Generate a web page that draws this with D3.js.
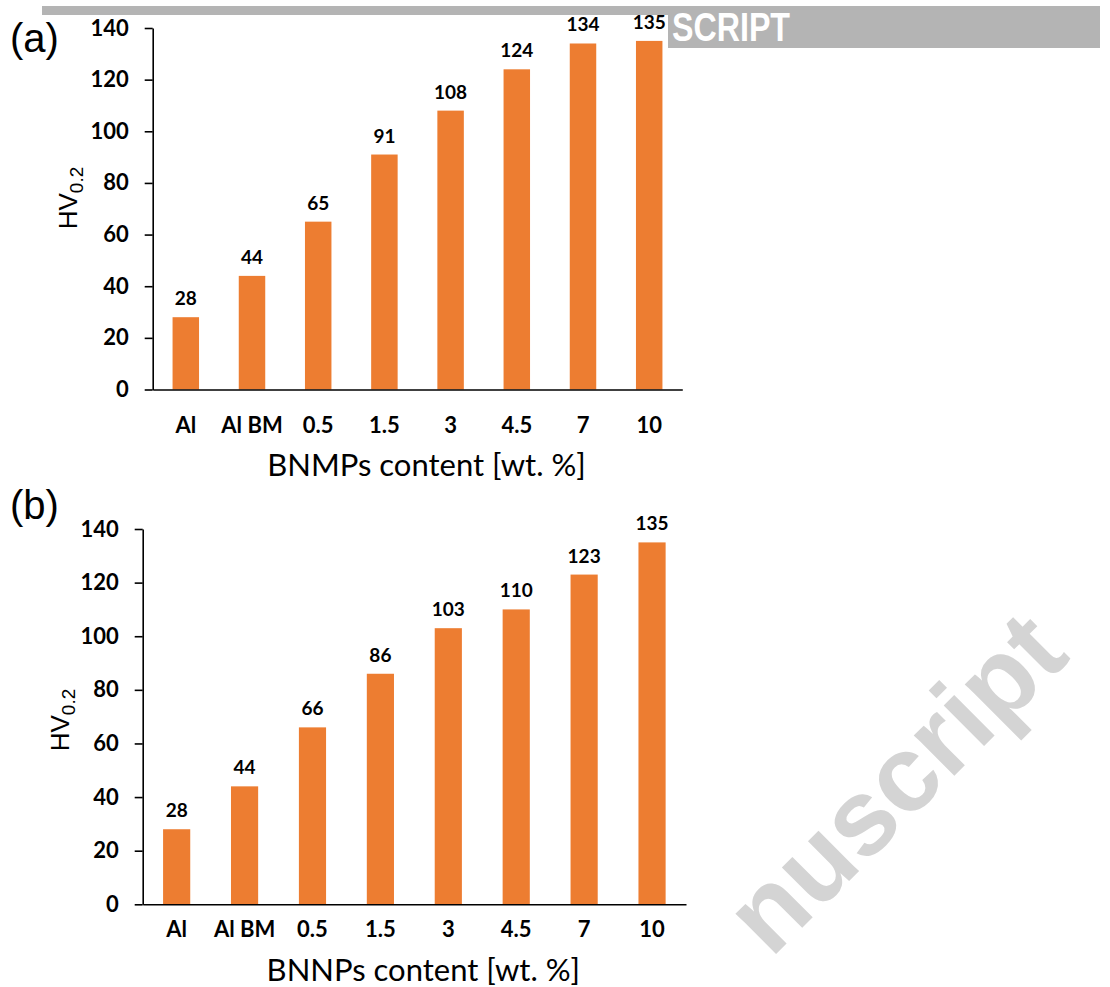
<!DOCTYPE html>
<html>
<head>
<meta charset="utf-8">
<script src="https://cdn.jsdelivr.net/npm/d3@7"></script>
<style>
  html, body { margin: 0; padding: 0; background: #fff; }
  svg { display: block; }
</style>
</head>
<body>
<svg id="chart" width="1110" height="987"></svg>
<script>
// ---- data ----
const categories = ["Al", "Al BM", "0.5", "1.5", "3", "4.5", "7", "10"];
const valuesA = [28, 44, 65, 91, 108, 124, 134, 135];
const valuesB = [28, 44, 66, 86, 103, 110, 123, 135];
const yTicks = [0, 20, 40, 60, 80, 100, 120, 140];
const titleA = "BNMPs content [wt. %]";
const titleB = "BNNPs content [wt. %]";
const panelLabels = ["(a)", "(b)"];
const bannerText = "SCRIPT";        // visible part of the "ACCEPTED MANUSCRIPT" banner
const watermarkText = "nuscript";   // visible part of the diagonal watermark

const BAR = "#ED7D31";
const CAL = "Lato, 'Open Sans', sans-serif";
const ARIAL = "'Liberation Sans', Arial, sans-serif";

const svg = d3.select("#chart");

// ---- top banner watermark ----
const banner = svg.append("g");
banner.append("rect").attr("x", 42).attr("y", 6).attr("width", 1058).attr("height", 42).attr("fill", "#b4b4b4");
// the figure image covers part of the banner
banner.append("rect").attr("x", 42).attr("y", 15).attr("width", 626).attr("height", 34).attr("fill", "#fff");
banner.append("text")
  .attr("x", 672).attr("y", 41)
  .attr("textLength", 118).attr("lengthAdjust", "spacingAndGlyphs")
  .style("font-family", ARIAL).style("font-weight", "bold").style("font-size", "40px")
  .attr("fill", "#fff")
  .text(bannerText);

function drawPanel(cfg) {
  const g = svg.append("g");
  const x = d3.scaleBand().domain(categories).range([cfg.x0, cfg.x1]).paddingInner(0.6).paddingOuter(0.3);
  const y = d3.scaleLinear().domain([0, 140]).range([cfg.yb, cfg.yt]);

  // bars
  g.selectAll("rect.bar").data(cfg.values).join("rect")
    .attr("class", "bar")
    .attr("x", (d, i) => x(categories[i]))
    .attr("y", d => y(d))
    .attr("width", x.bandwidth())
    .attr("height", d => y(0) - y(d))
    .attr("fill", BAR);

  // value labels
  g.selectAll("text.val").data(cfg.values).join("text")
    .attr("class", "val")
    .attr("x", (d, i) => x(categories[i]) + x.bandwidth() / 2)
    .attr("y", d => y(d) - 12)
    .attr("text-anchor", "middle")
    .style("font-family", CAL).style("font-weight", "bold").style("font-size", "19px")
    .attr("fill", "#000")
    .text(d => d);

  // y axis
  const ya = g.append("g").attr("transform", `translate(${cfg.x0},0)`)
    .call(d3.axisLeft(y).tickValues(yTicks).tickSize(8).tickSizeOuter(0).tickPadding(16));
  ya.select(".domain").attr("stroke", "#000").attr("stroke-width", 1.6);
  ya.selectAll(".tick line").attr("stroke", "#000").attr("stroke-width", 1.6);
  ya.selectAll(".tick text")
    .style("font-family", CAL).style("font-weight", "bold").style("font-size", "22px").attr("fill", "#000");

  // x axis
  const xa = g.append("g").attr("transform", `translate(0,${y(0)})`)
    .call(d3.axisBottom(x).tickSize(0).tickSizeOuter(0).tickPadding(cfg.xPad));
  xa.select(".domain").attr("stroke", "#000").attr("stroke-width", 1.6);
  xa.selectAll(".tick text")
    .style("font-family", CAL).style("font-weight", "bold").style("font-size", "22px").attr("fill", "#000");

  // x title
  g.append("text")
    .attr("x", (cfg.x0 + cfg.x1) / 2 + 9).attr("y", cfg.titleY)
    .attr("text-anchor", "middle")
    .style("font-family", CAL).style("font-size", "31px").attr("fill", "#000")
    .text(cfg.title);

  // y title HV0.2
  const yt = g.append("text")
    .attr("transform", `translate(${cfg.yTitleX},${cfg.yTitleY}) rotate(-90)`)
    .attr("text-anchor", "middle")
    .style("font-family", ARIAL).style("font-size", "26px").attr("fill", "#000");
  yt.append("tspan").text("HV");
  yt.append("tspan").attr("dy", 6).style("font-size", "19px").text("0.2");

  // panel label
  g.append("text")
    .attr("x", 10).attr("y", cfg.labelY)
    .style("font-family", ARIAL).style("font-size", "40px").attr("fill", "#000")
    .text(cfg.label);
}

drawPanel({ values: valuesA, x0: 152.7, x1: 682.3, yb: 389.5, yt: 28, xPad: 28,
  title: titleA, titleY: 476, yTitleX: 77, yTitleY: 198, label: panelLabels[0], labelY: 52 });
drawPanel({ values: valuesB, x0: 142.7, x1: 686, yb: 904.3, yt: 529, xPad: 17,
  title: titleB, titleY: 981, yTitleX: 69, yTitleY: 720, label: panelLabels[1], labelY: 519 });

// ---- diagonal watermark ----
svg.append("text")
  .attr("transform", "translate(1072,658) rotate(-45)")
  .attr("text-anchor", "end")
  .style("font-family", ARIAL).style("font-weight", "bold").style("font-size", "108px")
  .attr("fill", "#d4d4d4")
  .text(watermarkText);
</script>
</body>
</html>
